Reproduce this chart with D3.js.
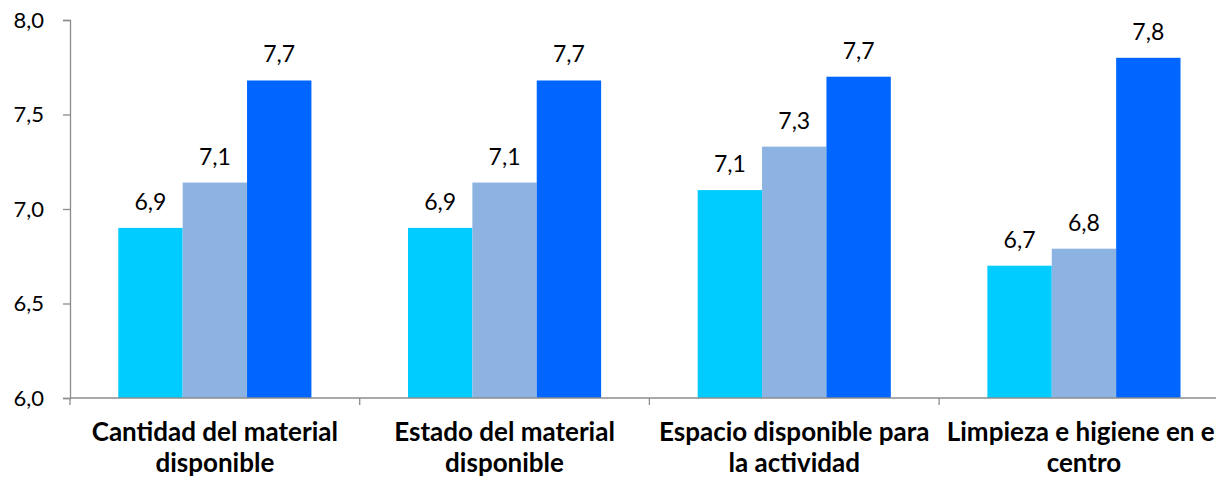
<!DOCTYPE html>
<html>
<head>
<meta charset="utf-8">
<script src="https://cdn.jsdelivr.net/npm/d3@7"></script>
<style>
  html, body { margin: 0; padding: 0; background: #fff; }
  svg { display: block; }
  text { font-family: Lato, "Open Sans", sans-serif; fill: #000; }
</style>
</head>
<body>
<svg id="chart" width="1216" height="480"></svg>
<script>
// Category labels, split into the two lines shown under the axis
const categories = [
  ["Cantidad del material", "disponible"],
  ["Estado del material", "disponible"],
  ["Espacio disponible para", "la actividad"],
  ["Limpieza e higiene en el", "centro"]
];
const seriesNames = ["Serie A", "Serie B", "Serie C"];
const seriesColors = ["#00CCFF", "#8DB3E2", "#0066FF"];

// Scores per series, one value per category
const serieA = [6.90, 6.90, 7.10, 6.70];
const serieB = [7.14, 7.14, 7.33, 6.79];
const serieC = [7.68, 7.68, 7.70, 7.80];
const seriesValues = [serieA, serieB, serieC];

const yTicks = [6.0, 6.5, 7.0, 7.5, 8.0];

const svg = d3.select("#chart");
const plotLeft = 70, plotTop = 20, plotBottom = 398, bandW = 289.7;

const catKeys = categories.map((c, i) => i);
const x0 = d3.scaleBand()
  .domain(catKeys)
  .range([plotLeft, plotLeft + bandW * categories.length])
  .paddingInner(0).paddingOuter(0);
const x1 = d3.scaleBand()
  .domain(seriesNames)
  .range([x0.bandwidth() / 6, x0.bandwidth() * 5 / 6])
  .padding(0);
const y = d3.scaleLinear().domain([6, 8]).range([plotBottom, plotTop]);

const fmt = v => d3.format(".1f")(v).replace(".", ",");

// Bars
const groups = svg.append("g").selectAll("g")
  .data(catKeys)
  .join("g")
  .attr("transform", d => `translate(${x0(d)},0)`);

groups.selectAll("rect")
  .data(ci => seriesNames.map((s, si) => ({ s, si, v: seriesValues[si][ci] })))
  .join("rect")
  .attr("x", d => x1(d.s))
  .attr("width", x1.bandwidth())
  .attr("y", d => y(d.v))
  .attr("height", d => y(6) - y(d.v))
  .attr("fill", d => seriesColors[d.si]);

// Value labels above bars
groups.selectAll("text.val")
  .data(ci => seriesNames.map((s, si) => ({ s, si, v: seriesValues[si][ci] })))
  .join("text")
  .attr("class", "val")
  .attr("x", d => x1(d.s) + x1.bandwidth() / 2)
  .attr("y", d => y(d.v) - 18)
  .attr("text-anchor", "middle")
  .style("font-size", "23px")
  .text(d => fmt(d.v));

// Y axis
const yAxis = svg.append("g")
  .attr("transform", `translate(${plotLeft},0)`)
  .call(d3.axisLeft(y).tickValues(yTicks).tickSize(7).tickPadding(19).tickFormat(fmt));
yAxis.select(".domain").attr("stroke", "#8c8c8c").attr("stroke-width", 1.3);
yAxis.selectAll(".tick line").attr("stroke", "#8c8c8c").attr("stroke-width", 1.3);
yAxis.selectAll(".tick text")
  .style("font-size", "22px")
  .style("font-family", "Lato, sans-serif")
  .attr("fill", "#000");

// X axis with ticks at category boundaries
const xAxisG = svg.append("g");
xAxisG.append("line")
  .attr("x1", plotLeft).attr("x2", 1216)
  .attr("y1", plotBottom).attr("y2", plotBottom)
  .attr("stroke", "#8c8c8c").attr("stroke-width", 1.3);
xAxisG.selectAll("line.sep")
  .data(catKeys)
  .join("line")
  .attr("class", "sep")
  .attr("x1", d => x0(d)).attr("x2", d => x0(d))
  .attr("y1", plotBottom).attr("y2", plotBottom + 7)
  .attr("stroke", "#8c8c8c").attr("stroke-width", 1.3);

// Category labels
xAxisG.selectAll("text.cat")
  .data(catKeys)
  .join("text")
  .attr("class", "cat")
  .attr("text-anchor", "middle")
  .style("font-size", "26px")
  .style("font-weight", "bold")
  .each(function(ci) {
    const t = d3.select(this);
    const cx = x0(ci) + x0.bandwidth() / 2;
    categories[ci].forEach((line, li) => {
      t.append("tspan")
        .attr("x", cx)
        .attr("y", 441 + li * 31)
        .text(line);
    });
  });
</script>
</body>
</html>
